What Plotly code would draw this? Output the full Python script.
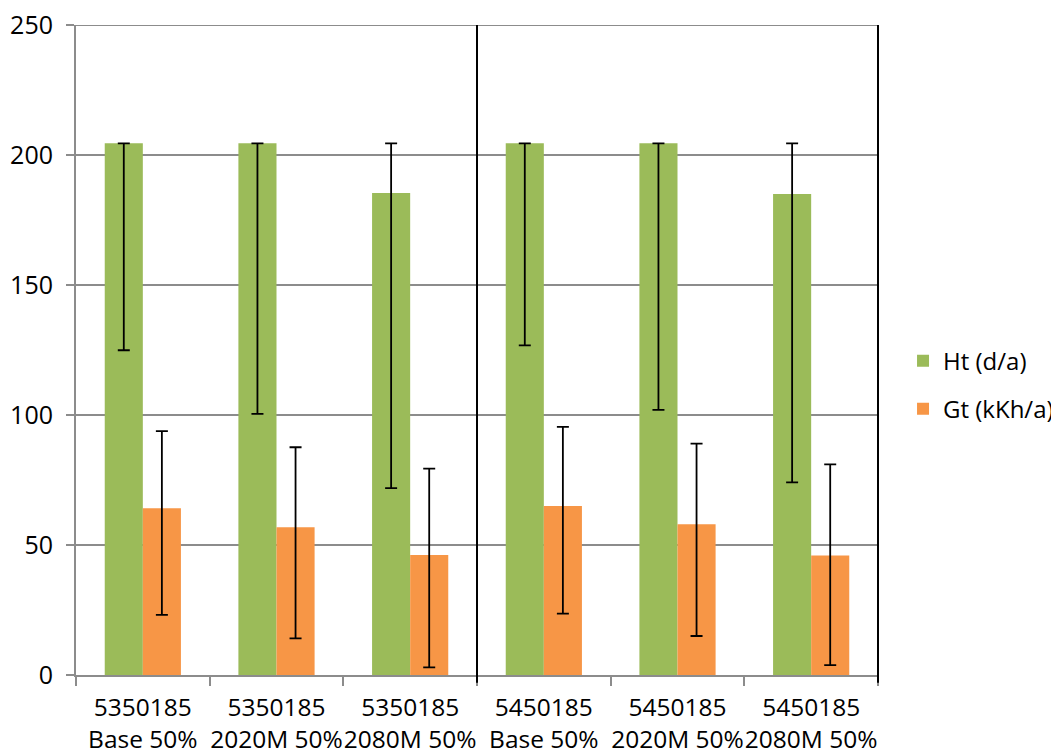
import plotly.graph_objects as go

categories = ["5350185<br>Base 50%", "5350185<br>2020M 50%", "5350185<br>2080M 50%",
              "5450185<br>Base 50%", "5450185<br>2020M 50%", "5450185<br>2080M 50%"]

ht_values = [204.5, 204.5, 185.4, 204.5, 204.5, 185.0]
ht_err_upper = [204.5, 204.5, 204.5, 204.5, 204.5, 204.5]
ht_err_lower = [124.9, 100.4, 71.9, 126.8, 102.0, 74.1]

gt_values = [64.1, 56.8, 46.2, 65.0, 58.0, 46.0]
gt_err_upper = [93.8, 87.6, 79.4, 95.4, 89.0, 81.0]
gt_err_lower = [23.1, 14.1, 2.9, 23.6, 15.0, 3.8]

y_ticks = [0, 50, 100, 150, 200, 250]

GREEN = "#9BBB59"
ORANGE = "#F79646"
GRAY = "#8C8C8C"
FONT = "Open Sans"


def plus(vals, ups):
    return [u - v for v, u in zip(vals, ups)]


def minus(vals, lows):
    return [v - l for v, l in zip(vals, lows)]


fig = go.Figure()
fig.add_trace(go.Bar(
    x=categories, y=ht_values, name="Ht (d/a)", marker=dict(color=GREEN, line=dict(width=0)),
    legendgroup="ht",
    error_y=dict(type="data", symmetric=False, array=plus(ht_values, ht_err_upper),
                 arrayminus=minus(ht_values, ht_err_lower), color="black", thickness=1.8, width=6),
))
fig.add_trace(go.Bar(
    x=categories, y=gt_values, name="Gt (kKh/a)", marker=dict(color=ORANGE, line=dict(width=0)),
    legendgroup="gt",
    error_y=dict(type="data", symmetric=False, array=plus(gt_values, gt_err_upper),
                 arrayminus=minus(gt_values, gt_err_lower), color="black", thickness=1.8, width=6),
))

# top gridline at the axis maximum
fig.add_shape(type="line", xref="paper", yref="y", x0=0, x1=1, y0=y_ticks[-1], y1=y_ticks[-1],
              line=dict(color=GRAY, width=2), layer="below")
# vertical separator between the two site groups and right border
fig.add_shape(type="line", xref="x", yref="paper", x0=2.5, x1=2.5, y0=-0.012, y1=1,
              line=dict(color="black", width=2))
fig.add_shape(type="line", xref="paper", yref="paper", x0=1, x1=1, y0=-0.012, y1=1,
              line=dict(color="black", width=2))

fig.update_layout(
    width=1051, height=746,
    margin=dict(l=68, r=181, t=17, b=79, autoexpand=False),
    paper_bgcolor="white", plot_bgcolor="white",
    barmode="group", bargap=0.43, bargroupgap=0,
    font=dict(family=FONT, size=25, color="black"),
    showlegend=True,
    legend=dict(xref="container", yref="container", x=0.8516, y=0.4946, xanchor="left", yanchor="middle",
                font=dict(family=FONT, size=24, color="black"),
                tracegroupgap=14, itemwidth=30, bgcolor="rgba(0,0,0,0)"),
)
fig.update_xaxes(
    type="category", range=[-0.5, 5.5], automargin=False, tickangle=0,
    showline=True, linecolor=GRAY, linewidth=2,
    ticks="outside", tickson="boundaries", ticklen=9, tickcolor=GRAY, tickwidth=2,
    showgrid=False, tickfont=dict(family=FONT, size=24.5), ticklabelstandoff=10,
    ticklabeloverflow="allow",
)
fig.update_yaxes(
    range=[0, 250], tickvals=y_ticks, ticktext=[str(v) for v in y_ticks], automargin=False,
    showline=True, linecolor=GRAY, linewidth=2,
    ticks="outside", ticklen=8, tickcolor=GRAY, tickwidth=2,
    showgrid=True, gridcolor=GRAY, gridwidth=1.5, zeroline=False,
    tickfont=dict(family=FONT, size=25), ticklabelstandoff=8,
    ticklabeloverflow="allow",
)

fig.write_html("out.html")
